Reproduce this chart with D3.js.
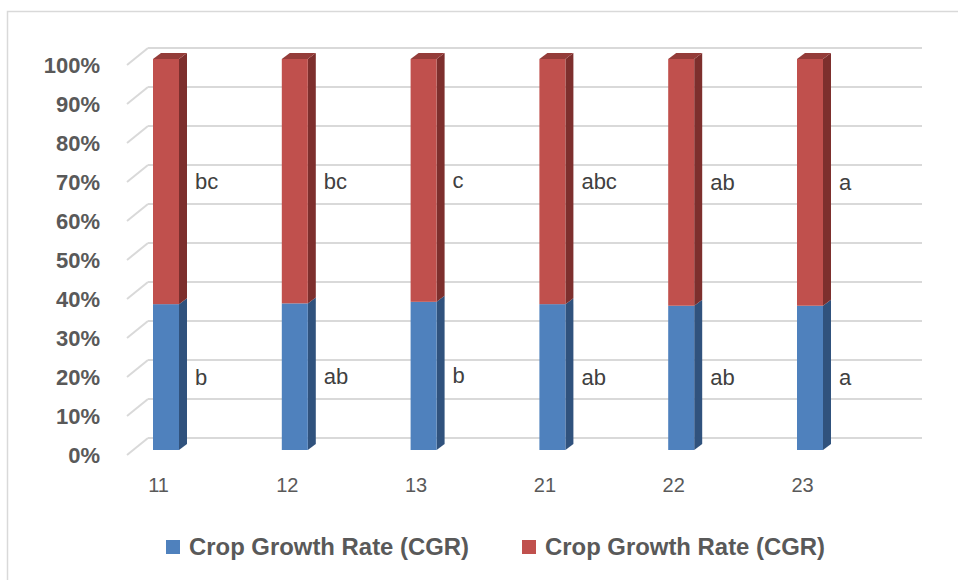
<!DOCTYPE html>
<html>
<head>
<meta charset="utf-8">
<script src="https://cdn.jsdelivr.net/npm/d3@7/dist/d3.min.js"></script>
<style>
  html, body { margin: 0; padding: 0; background: #fff; }
  svg { display: block; }
</style>
</head>
<body>
<svg id="chart" width="958" height="580"></svg>
<script>
// Treatments on the category axis
const categories = ["11", "12", "13", "21", "22", "23"];
// Share of each stacked segment (%)
const cgrLower = [37.3, 37.5, 37.9, 37.3, 36.9, 36.9];
const cgrUpper = [62.7, 62.5, 62.1, 62.7, 63.1, 63.1];
// Significance letters shown beside each segment
const lowerLetters = ["b", "ab", "b", "ab", "ab", "a"];
const upperLetters = ["bc", "bc", "c", "abc", "ab", "a"];
// Value axis ticks
const yTickValues = [0, 10, 20, 30, 40, 50, 60, 70, 80, 90, 100];
const seriesNames = ["Crop Growth Rate (CGR)", "Crop Growth Rate (CGR)"];

const colors = {
  lower: { front: "#4f81bd", side: "#30527d", top: "#3d6698" },
  upper: { front: "#c0504d", side: "#7d2f2d", top: "#943c39" }
};
const grid = "#d9d9d9";
const textGrey = "#595959";

const svg = d3.select("#chart");

// chart border (runs off the right and bottom of the page)
svg.append("rect")
  .attr("x", 7.5).attr("y", 11.5)
  .attr("width", 1200).attr("height", 1200)
  .attr("fill", "none").attr("stroke", grid).attr("stroke-width", 1.5);

// 3D walls: front plane, back plane and bar plane share the value scale
const yFront = d3.scaleLinear().domain([0, 100]).range([455, 65]);
const yBack = d3.scaleLinear().domain([0, 100]).range([438, 48]);
const yBar = d3.scaleLinear().domain([0, 100]).range([450, 59]);
const wallFrontX = 127, wallBackX = 148, wallRightX = 922;

const gridG = svg.append("g");
yTickValues.forEach(v => {
  gridG.append("line")
    .attr("x1", wallBackX).attr("x2", wallRightX)
    .attr("y1", yBack(v)).attr("y2", yBack(v))
    .attr("stroke", grid).attr("stroke-width", 2);
  gridG.append("line")
    .attr("x1", wallFrontX).attr("x2", wallBackX)
    .attr("y1", yFront(v)).attr("y2", yBack(v))
    .attr("stroke", grid).attr("stroke-width", 2);
});

// value axis labels
const yAxis = d3.axisLeft(yFront)
  .tickValues(yTickValues)
  .tickFormat(d => d + "%")
  .tickSize(0).tickPadding(0);
const yAxisG = svg.append("g").attr("transform", "translate(100,0)").call(yAxis);
yAxisG.select(".domain").remove();
yAxisG.selectAll("text")
  .attr("font-family", "'Liberation Sans', Arial, sans-serif")
  .attr("font-size", 22).attr("font-weight", "bold")
  .attr("fill", textGrey);

// bar positions
const x = d3.scalePoint().domain(categories).range([166, 810]);
const barW = 26, depthX = 8, depthY = -6;

const table = categories.map((c, i) => ({ cat: c, lower: cgrLower[i], upper: cgrUpper[i] }));
const stacked = d3.stack().keys(["lower", "upper"])(table);

const barsG = svg.append("g");
stacked.forEach(layer => {
  const col = colors[layer.key];
  layer.forEach((seg, i) => {
    const cx = x(table[i].cat);
    const x0 = cx - barW / 2, x1 = cx + barW / 2;
    const yb = yBar(seg[0]), yt = yBar(seg[1]);
    // side face
    barsG.append("path")
      .attr("d", `M${x1},${yb}L${x1 + depthX},${yb + depthY}L${x1 + depthX},${yt + depthY}L${x1},${yt}Z`)
      .attr("fill", col.side);
    // front face
    barsG.append("rect")
      .attr("x", x0).attr("y", yt)
      .attr("width", barW).attr("height", yb - yt)
      .attr("fill", col.front);
    // top face on the upper segment
    if (layer.key === "upper") {
      barsG.append("path")
        .attr("d", `M${x0},${yt}L${x1},${yt}L${x1 + depthX},${yt + depthY}L${x0 + depthX},${yt + depthY}Z`)
        .attr("fill", col.top);
    }
  });
});

// significance letters
const letters = { lower: lowerLetters, upper: upperLetters };
const labelG = svg.append("g")
  .attr("font-family", "'Liberation Sans', Arial, sans-serif")
  .attr("font-size", 22).attr("fill", "#404040");
stacked.forEach(layer => {
  layer.forEach((seg, i) => {
    labelG.append("text")
      .attr("x", x(table[i].cat) + 29)
      .attr("y", yBar((seg[0] + seg[1]) / 2))
      .attr("dominant-baseline", "central")
      .text(letters[layer.key][i]);
  });
});

// category axis
const xLabel = d3.scalePoint().domain(categories).range([158, 802]);
const xAxis = d3.axisBottom(xLabel).tickSize(0).tickPadding(0);
const xAxisG = svg.append("g").attr("transform", "translate(0,478)").call(xAxis);
xAxisG.select(".domain").remove();
xAxisG.selectAll("text")
  .attr("font-family", "'Liberation Sans', Arial, sans-serif")
  .attr("font-size", 20).attr("fill", textGrey);

// legend
const legendItems = [
  { name: seriesNames[0], color: colors.lower.front, x: 166 },
  { name: seriesNames[1], color: colors.upper.front, x: 522 }
];
const legG = svg.append("g");
legendItems.forEach(d => {
  legG.append("rect")
    .attr("x", d.x).attr("y", 540).attr("width", 14).attr("height", 14)
    .attr("fill", d.color);
  legG.append("text")
    .attr("x", d.x + 23).attr("y", 555)
    .attr("font-family", "'Liberation Sans', Arial, sans-serif")
    .attr("font-size", 23).attr("font-weight", "bold")
    .attr("fill", textGrey)
    .attr("textLength", 280).attr("lengthAdjust", "spacingAndGlyphs")
    .text(d.name);
});
</script>
</body>
</html>
